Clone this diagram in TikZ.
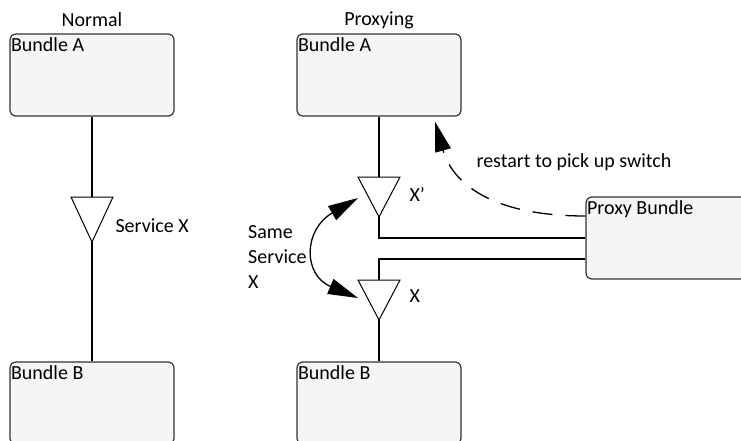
\documentclass[tikz,border=0pt]{standalone}
\usepackage{fontspec}
\setmainfont{Carlito}
\usetikzlibrary{arrows.meta}
\definecolor{boxfill}{HTML}{F5F5F5}
\definecolor{boxline}{HTML}{333333}
\tikzset{
  every node/.style={font=\fontsize{20pt}{25pt}\selectfont},
  bundle/.style={draw=boxline, line width=1.2pt, fill=boxfill, rounded corners=6pt,
    minimum width=164pt, minimum height=82pt, inner sep=0pt,
    label={[anchor=north west, inner xsep=1.5pt, inner ysep=4pt]north west:#1}},
  wire/.style={line width=1.8pt},
  service/.style={line width=1pt},
  bighead/.tip={Triangle[length=30pt, width=16pt]},
}
\begin{document}
\begin{tikzpicture}[x=1pt, y=-1pt]
    \useasboundingbox (0, 0) rectangle (741, 441);

    % Titles
    \node (normal) at (92, 20) {Normal};
    \node (proxying) at (379, 20) {Proxying};

    % Normal case
    \node[bundle=Bundle A] (bundleA) at (92, 75) {};
    \node[bundle=Bundle B] (bundleB) at (92, 403) {};
    \coordinate (svc) at (92, 197);
    \coordinate (svctip) at (92, 242);
    \draw[service] (svc) ++(-21, 0) -- ++(42, 0) -- (svctip) -- cycle;
    \node[anchor=west] (svclabel) at (112, 226) {Service X};
    \draw[wire] (bundleA.south) -- (svc);
    \draw[wire] (svctip) -- (bundleB.north);

    % Proxying case
    \node[bundle=Bundle A] (pbundleA) at (379, 75) {};
    \node[bundle=Bundle B] (pbundleB) at (379, 403) {};
    \node[bundle=Proxy Bundle] (proxy) at (668, 238) {};

    \coordinate (svcp) at (379, 177);
    \coordinate (svcptip) at (379, 217);
    \draw[service] (svcp) ++(-21, 0) -- ++(42, 0) -- (svcptip) -- cycle;
    \node[anchor=west] (svcplabel) at (406, 194) {X’};

    \coordinate (svcx) at (379, 280);
    \coordinate (svcxtip) at (379, 320);
    \draw[service] (svcx) ++(-21, 0) -- ++(42, 0) -- (svcxtip) -- cycle;
    \node[anchor=west] (svcxlabel) at (406, 296) {X};

    \draw[wire] (pbundleA.south) -- (svcp);
    \draw[wire] (svcptip) |- (proxy.west);
    \draw[wire] ([yshift=-21pt]proxy.west) -| (svcx);
    \draw[wire] (svcxtip) -- (pbundleB.north);

    % Restart
    \coordinate (restartfrom) at ([yshift=22pt]proxy.west);
    \coordinate (restartto) at ([shift={(56, 5)}]pbundleA.south);
    \draw[line width=1.3pt, dash pattern=on 20pt off 13pt, -bighead]
        (restartfrom) .. controls (490, 216) and (452, 182) .. (restartto);
    \node[anchor=west] (restartlabel) at (473, 162) {restart to pick up switch};

    % Same service
    \coordinate (samep) at ([shift={(-21, 21)}]svcp);
    \coordinate (samex) at ([shift={(-21, 18)}]svcx);
    \draw[line width=1.3pt, bighead-bighead]
        (samep) .. controls (303, 230) and (303, 275) .. (samex);
    \node[anchor=west, align=left, inner sep=0pt] (samelabel) at (248, 257) {Same\\Service\\X};
\end{tikzpicture}
\end{document}
